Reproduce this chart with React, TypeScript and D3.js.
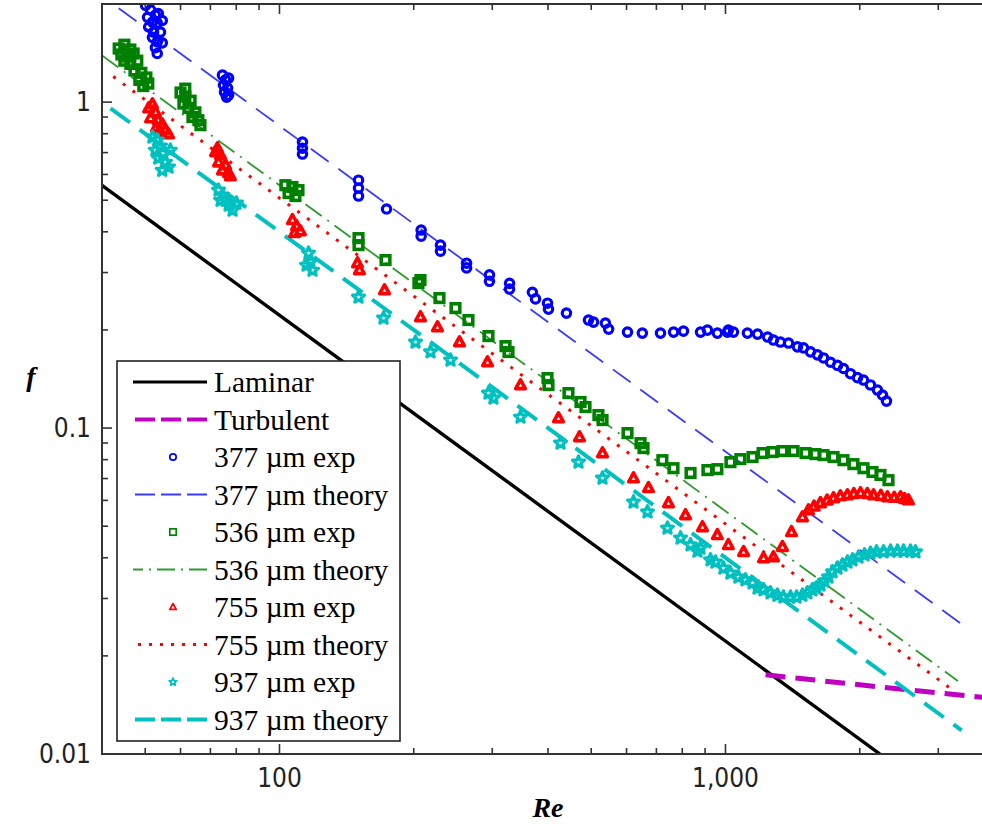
import React from 'react';
import * as d3 from 'd3';

// ---------- data (Re, f) ----------
const laminar: [number, number][] = [[40, 0.555], [2220, 0.01]];
const turbulent: [number, number][] = [[1230, 0.0175], [2000, 0.0163], [4000, 0.0148]];
const theory377: [number, number][] = [[43.6, 1.94], [3400, 0.0249]];
const theory536: [number, number][] = [[40, 1.39], [3320, 0.01675]];
const theory755: [number, number][] = [[42.4, 1.198], [3256, 0.0156]];
const theory937: [number, number][] = [[41.8, 0.957], [3385, 0.01182]];

const exp377: [number, number][] = [
  [50.1, 1.98], [51.4, 1.92], [53.5, 1.87], [52.7, 1.85], [50.6, 1.82], [54.6, 1.78], [51.9, 1.76], [53.2, 1.75],
  [50.9, 1.70], [52.2, 1.64], [54.1, 1.64], [51.9, 1.58], [53.2, 1.53], [54.6, 1.52], [52.7, 1.47], [53.2, 1.41],
  [74.5, 1.21], [75.7, 1.17], [76.9, 1.185], [74.9, 1.128], [76.5, 1.104], [75.3, 1.073], [76.9, 1.051], [76.1, 1.036],
  [112.6, 0.754], [112.6, 0.722], [112.6, 0.693],
  [150.4, 0.576], [150.4, 0.545], [150.4, 0.515],
  [173.8, 0.47],
  [207.8, 0.405], [207.8, 0.388],
  [229.6, 0.364], [229.6, 0.349],
  [262.7, 0.3205], [262.7, 0.31],
  [295.7, 0.295], [295.7, 0.282],
  [328, 0.278], [328, 0.267],
  [369, 0.261], [375, 0.249], [399, 0.2416], [401, 0.2317], [440, 0.2253], [493, 0.2145], [506, 0.2114],
  [538, 0.2099], [547, 0.2012], [603, 0.197], [651, 0.1956], [715, 0.1956], [765, 0.197], [805, 0.1984],
  [879, 0.197], [911, 0.1998], [959, 0.1956], [1010, 0.197], [1015, 0.1998], [1042, 0.197], [1120, 0.1956],
  [1180, 0.1942], [1243, 0.1902], [1281, 0.1862], [1328, 0.1836], [1385, 0.1823], [1450, 0.1775], [1496, 0.1762],
  [1551, 0.1713], [1608, 0.1677], [1659, 0.1641], [1720, 0.1592], [1783, 0.1557], [1839, 0.1523], [1907, 0.1468],
  [1977, 0.1428], [2039, 0.1404], [2114, 0.1356], [2192, 0.1308], [2249, 0.1263], [2296, 0.121],
];

const exp536: [number, number][] = [
  [43.6, 1.46], [44.9, 1.5], [46.3, 1.45], [44.2, 1.4], [45.6, 1.38], [47.1, 1.41], [44.9, 1.34], [46.3, 1.31],
  [48.0, 1.34], [47.3, 1.25], [49.0, 1.23], [50.3, 1.19], [48.5, 1.17], [50.8, 1.14], [49.5, 1.12],
  [61.5, 1.1], [60.0, 1.07], [61.5, 1.04], [63.2, 1.01], [60.9, 0.99], [62.5, 0.96], [64.8, 0.93], [63.8, 0.9],
  [65.8, 0.88], [66.5, 0.85],
  [103.1, 0.556], [106.9, 0.549], [110.3, 0.537], [104.8, 0.526], [108.6, 0.515],
  [150.4, 0.3826], [150.4, 0.3641], [172.9, 0.3277], [204.9, 0.2785], [207.1, 0.2845], [228.4, 0.2505],
  [248.1, 0.2334], [265.3, 0.2145], [294.2, 0.1915], [321.2, 0.1784], [326.2, 0.1711], [399, 0.1423],
  [401, 0.1355], [444.6, 0.128], [473.1, 0.1202], [485.5, 0.116], [519, 0.1096], [530, 0.1058], [603, 0.0965],
  [645, 0.0899], [655, 0.0868], [722, 0.0797], [764.6, 0.0753], [835, 0.0728], [911, 0.0743], [959, 0.0748],
  [1026, 0.0786], [1080, 0.0803], [1150, 0.0815], [1211, 0.0838], [1275, 0.0844], [1342, 0.085], [1421, 0.085],
  [1512, 0.0838], [1591, 0.0832], [1659, 0.0826], [1747, 0.0815], [1839, 0.0797], [1936, 0.0775], [2039, 0.0753],
  [2136, 0.0733], [2226, 0.0718], [2320, 0.0692],
];

const exp755: [number, number][] = [
  [50.9, 0.958], [51.9, 0.986], [52.7, 0.932], [51.4, 0.893], [53.5, 0.881], [54.6, 0.856], [53.0, 0.838],
  [55.5, 0.821], [56.4, 0.798], [54.1, 0.809],
  [72.6, 0.722], [71.9, 0.703], [73.8, 0.688], [73.0, 0.654], [75.7, 0.641], [74.5, 0.618], [76.9, 0.606], [77.6, 0.593],
  [106.9, 0.435], [109.2, 0.417], [111.4, 0.402], [108.1, 0.397],
  [149.6, 0.3205], [151.1, 0.3053], [172.0, 0.2651], [207.1, 0.2191], [226.1, 0.2041], [253.3, 0.1836],
  [292.7, 0.1594], [347.1, 0.1355], [422.3, 0.1073], [470.6, 0.0938], [530, 0.0838], [622, 0.0702], [672, 0.0655],
  [745, 0.0589], [813.5, 0.0541], [888, 0.0497], [959, 0.047], [1015, 0.0438], [1098, 0.0417], [1217, 0.0399],
  [1281, 0.0402], [1342, 0.0432], [1406, 0.048], [1488, 0.0533], [1535, 0.056], [1580, 0.0575], [1633, 0.0589],
  [1690, 0.06], [1747, 0.061], [1810, 0.0618], [1877, 0.0623], [1940, 0.0628], [2008, 0.0632], [2080, 0.0628],
  [2147, 0.0623], [2230, 0.062], [2308, 0.0614], [2390, 0.0612], [2469, 0.0614], [2520, 0.0606], [2572, 0.0601],
];

const exp937: [number, number][] = [
  [51.9, 0.781], [53.2, 0.765], [54.1, 0.733], [52.7, 0.712], [54.9, 0.698], [53.5, 0.673], [55.5, 0.654],
  [56.4, 0.632], [54.6, 0.618], [56.9, 0.712],
  [73.0, 0.537], [74.5, 0.519], [75.7, 0.5], [76.9, 0.483], [78.5, 0.466], [80.1, 0.49], [73.8, 0.5],
  [116.2, 0.344], [117.3, 0.323], [118.6, 0.305], [115, 0.316],
  [150.4, 0.2522], [171.1, 0.2175], [201.8, 0.1836], [218.1, 0.1713], [241.8, 0.1617], [294.2, 0.128],
  [301.8, 0.1236], [347.1, 0.108], [426.7, 0.0899], [468.2, 0.0786], [530, 0.0702], [622, 0.0593], [668.6, 0.0553],
  [741.3, 0.0493], [792.9, 0.046], [834.9, 0.0438], [865.4, 0.0419], [879, 0.0428], [925.6, 0.0394], [949.6, 0.0388],
  [989.7, 0.0372], [1026, 0.0359], [1069, 0.0349], [1109, 0.0342], [1150, 0.0335], [1180, 0.0323], [1217, 0.0319],
  [1262, 0.0312], [1308, 0.0307], [1349, 0.0303], [1399, 0.0303], [1443, 0.0303], [1488, 0.0307], [1527, 0.0312],
  [1567, 0.0319], [1600, 0.0323], [1633, 0.033], [1667, 0.0339], [1702, 0.0349], [1738, 0.0362], [1783, 0.0372],
  [1830, 0.038], [1877, 0.0388], [1927, 0.0394], [1987, 0.0402], [2050, 0.0408], [2114, 0.0413], [2181, 0.0417],
  [2261, 0.0417], [2344, 0.0419], [2431, 0.0419], [2507, 0.0419], [2599, 0.0419], [2667, 0.0417],
];

const xMajorTicks = [100, 1000];
const xMajorLabels = ['100', '1,000'];
const xMinorTicks = [50, 60, 70, 80, 90, 200, 300, 400, 500, 600, 700, 800, 900, 2000, 3000];
const yMajorTicks = [0.01, 0.1, 1];
const yMajorLabels = ['0.01', '0.1', '1'];
const yMinorTicks = [0.02, 0.03, 0.04, 0.05, 0.06, 0.07, 0.08, 0.09, 0.2, 0.3, 0.4, 0.5, 0.6, 0.7, 0.8, 0.9];

const legendLabels = [
  'Laminar', 'Turbulent', '377 \u00b5m exp', '377 \u00b5m theory', '536 \u00b5m exp',
  '536 \u00b5m theory', '755 \u00b5m exp', '755 \u00b5m theory', '937 \u00b5m exp', '937 \u00b5m theory',
];

// ---------- styles ----------
const BLUE = '#0000ff';
const BLUE_L = '#3b3bff';
const GREEN = '#008000';
const GREEN_L = '#2e9a2e';
const RED = '#ff0000';
const CYAN = '#00c0c0';
const MAGENTA = '#c000c0';

const W = 982;
const H = 824;
const X0 = 102, X1 = 994, Y0 = 4, Y1 = 754;

const x = d3.scaleLog().domain([40, 4000]).range([X0, X1]);
const y = d3.scaleLog().domain([0.01, 2]).range([Y1, Y0]);
const line = d3.line<[number, number]>().x(d => x(d[0])).y(d => y(d[1]));

function starPath(R: number, r: number) {
  const pts: string[] = [];
  for (let i = 0; i < 10; i++) {
    const a = (-90 + i * 36) * Math.PI / 180;
    const rr = i % 2 === 0 ? R : r;
    pts.push(`${(rr * Math.cos(a)).toFixed(2)},${(rr * Math.sin(a)).toFixed(2)}`);
  }
  return 'M' + pts.join('L') + 'Z';
}

type Kind = 'circle' | 'square' | 'triangle' | 'star';
function Marker({ kind, cx, cy, color, s, sw }: { kind: Kind; cx: number; cy: number; color: string; s: number; sw: number }) {
  const common = { fill: 'none', stroke: color, strokeWidth: sw };
  if (kind === 'circle') return <circle cx={cx} cy={cy} r={s} {...common} />;
  if (kind === 'square') return <rect x={cx - s} y={cy - s} width={2 * s} height={2 * s} {...common} />;
  if (kind === 'triangle') {
    const p = `M${cx},${cy - s * 1.1}L${cx + s},${cy + s * 0.75}L${cx - s},${cy + s * 0.75}Z`;
    return <path d={p} {...common} strokeLinejoin="round" />;
  }
  return <path d={starPath(s * 1.25, s * 0.55)} transform={`translate(${cx},${cy})`} {...common} strokeLinejoin="round" />;
}

const series: { data: [number, number][]; kind: Kind; color: string; s: number; sw: number }[] = [
  { data: exp377, kind: 'circle', color: BLUE, s: 4.2, sw: 3.2 },
  { data: exp536, kind: 'square', color: GREEN, s: 4.3, sw: 3.6 },
  { data: exp755, kind: 'triangle', color: RED, s: 4.8, sw: 3.6 },
  { data: exp937, kind: 'star', color: CYAN, s: 5, sw: 3.2 },
];

const legendRows: { type: 'line' | 'marker'; color: string; dash?: string; width?: number; kind?: Kind }[] = [
  { type: 'line', color: '#000', width: 3 },
  { type: 'line', color: MAGENTA, dash: '20 6', width: 4 },
  { type: 'marker', color: BLUE, kind: 'circle' },
  { type: 'line', color: BLUE_L, dash: '20 6', width: 2 },
  { type: 'marker', color: GREEN, kind: 'square' },
  { type: 'line', color: GREEN_L, dash: '18 6 2 6', width: 2 },
  { type: 'marker', color: RED, kind: 'triangle' },
  { type: 'line', color: RED, dash: '3 8', width: 3 },
  { type: 'marker', color: CYAN, kind: 'star' },
  { type: 'line', color: CYAN, dash: '20 6', width: 4 },
];

export default function App() {
  const tickFont = "'Liberation Sans Narrow', 'DejaVu Sans Condensed', 'Arial Narrow', sans-serif";
  const serif = "'Liberation Serif', 'Times New Roman', serif";
  return (
    <svg width={W} height={H} style={{ position: 'absolute', left: 0, top: 0, background: '#fff' }}>
      <defs>
        <clipPath id="plot">
          <rect x={X0} y={Y0} width={X1 - X0} height={Y1 - Y0} />
        </clipPath>
      </defs>
      <rect x={0} y={0} width={W} height={H} fill="#fff" />
      <g clipPath="url(#plot)">
        <path d={line(laminar) || ''} fill="none" stroke="#000" strokeWidth={3.4} />
        <path d={line(turbulent) || ''} fill="none" stroke={MAGENTA} strokeWidth={5} strokeDasharray="20 10" />
        <path d={line(theory377) || ''} fill="none" stroke={BLUE_L} strokeWidth={1.8} strokeDasharray="22 12" />
        <path d={line(theory536) || ''} fill="none" stroke={GREEN_L} strokeWidth={1.8} strokeDasharray="20 7 2 7" />
        <path d={line(theory755) || ''} fill="none" stroke={RED} strokeWidth={3} strokeDasharray="3 9" />
        <path d={line(theory937) || ''} fill="none" stroke={CYAN} strokeWidth={4} strokeDasharray="24 12" />
        {series.map((sr, i) => (
          <g key={i}>
            {sr.data.map((d, j) => (
              <Marker key={j} kind={sr.kind} cx={x(d[0])} cy={y(d[1])} color={sr.color} s={sr.s} sw={sr.sw} />
            ))}
          </g>
        ))}
      </g>
      {/* frame */}
      <rect x={X0} y={Y0} width={X1 - X0} height={Y1 - Y0} fill="none" stroke="#333" strokeWidth={2} />
      {/* x ticks */}
      {xMajorTicks.map(t => (
        <g key={'xM' + t}>
          <line x1={x(t)} x2={x(t)} y1={Y1} y2={Y1 - 10} stroke="#333" strokeWidth={1.6} />
          <line x1={x(t)} x2={x(t)} y1={Y0} y2={Y0 + 10} stroke="#333" strokeWidth={1.6} />
        </g>
      ))}
      {xMinorTicks.map(t => (
        <g key={'xm' + t}>
          <line x1={x(t)} x2={x(t)} y1={Y1} y2={Y1 - 6} stroke="#333" strokeWidth={1.6} />
          <line x1={x(t)} x2={x(t)} y1={Y0} y2={Y0 + 6} stroke="#333" strokeWidth={1.6} />
        </g>
      ))}
      {yMajorTicks.map(t => (
        <g key={'yM' + t}>
          <line x1={X0} x2={X0 + 10} y1={y(t)} y2={y(t)} stroke="#333" strokeWidth={1.6} />
          <line x1={X1} x2={X1 - 10} y1={y(t)} y2={y(t)} stroke="#333" strokeWidth={1.6} />
        </g>
      ))}
      {yMinorTicks.map(t => (
        <g key={'ym' + t}>
          <line x1={X0} x2={X0 + 6} y1={y(t)} y2={y(t)} stroke="#333" strokeWidth={1.6} />
          <line x1={X1} x2={X1 - 6} y1={y(t)} y2={y(t)} stroke="#333" strokeWidth={1.6} />
        </g>
      ))}
      {xMajorTicks.map((t, i) => (
        <text key={'xl' + t} x={x(t)} y={787} textAnchor="middle" fontFamily={tickFont} fontSize={26} fill="#222">
          {xMajorLabels[i]}
        </text>
      ))}
      {yMajorTicks.map((t, i) => (
        <text key={'yl' + t} x={91} y={y(t) + 9} textAnchor="end" fontFamily={tickFont} fontSize={26} fill="#222">
          {yMajorLabels[i]}
        </text>
      ))}
      <text x={548} y={817} textAnchor="middle" fontFamily={serif} fontSize={28} fontWeight="bold" fontStyle="italic">Re</text>
      <text x={31} y={386} textAnchor="middle" fontFamily={serif} fontSize={28} fontWeight="bold" fontStyle="italic">f</text>
      {/* legend */}
      <rect x={117} y={361} width={283} height={380} fill="#fff" stroke="#222" strokeWidth={1.6} />
      {legendRows.map((r, i) => {
        const ry = 382 + i * 37.5;
        return (
          <g key={'lg' + i}>
            {r.type === 'line' ? (
              <line x1={207} x2={133} y1={ry} y2={ry} stroke={r.color} strokeWidth={r.width} strokeDasharray={r.dash} />
            ) : (
              <Marker kind={r.kind as Kind} cx={173} cy={ry} color={r.color} s={3.2} sw={1.7} />
            )}
            <text x={214} y={ry + 10} fontFamily={serif} fontSize={29.5} fill="#000">{legendLabels[i]}</text>
          </g>
        );
      })}
    </svg>
  );
}
